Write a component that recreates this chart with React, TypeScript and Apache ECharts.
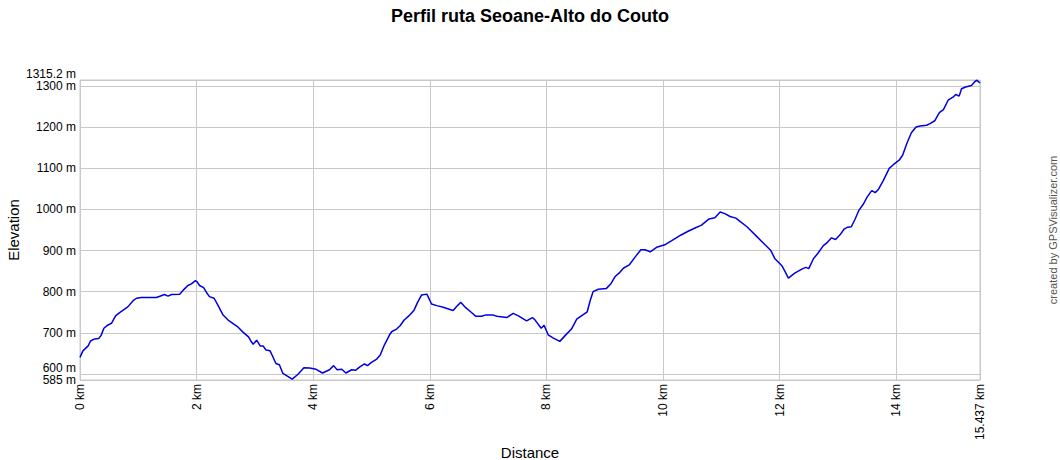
import React, { useEffect, useRef } from "react";
import * as echarts from "echarts";

const distanceKm = [
  0.0, 0.05, 0.14, 0.18, 0.25, 0.32, 0.36, 0.41, 0.48, 0.54, 0.61, 0.68, 0.74, 0.82, 0.91, 0.97,
  1.05, 1.31, 1.37, 1.45, 1.51, 1.57, 1.71, 1.78, 1.85, 1.91, 1.98, 2.01, 2.05, 2.12, 2.17, 2.22,
  2.3, 2.37, 2.45, 2.54, 2.62, 2.7, 2.8, 2.89, 2.93, 2.97, 3.03, 3.09, 3.14, 3.19, 3.26, 3.3,
  3.36, 3.42, 3.48, 3.55, 3.64, 3.74, 3.84, 3.94, 4.05, 4.16, 4.28, 4.35, 4.41, 4.49, 4.56, 4.66,
  4.73, 4.8, 4.88, 4.93, 5.0, 5.09, 5.15, 5.22, 5.31, 5.35, 5.43, 5.49, 5.56, 5.64, 5.73, 5.79,
  5.86, 5.95, 6.03, 6.12, 6.23, 6.32, 6.4, 6.46, 6.53, 6.6, 6.71, 6.79, 6.89, 6.95, 7.09, 7.15,
  7.32, 7.43, 7.52, 7.66, 7.76, 7.8, 7.91, 7.96, 8.03, 8.12, 8.23, 8.32, 8.43, 8.52, 8.6, 8.7,
  8.75, 8.8, 8.89, 9.03, 9.11, 9.18, 9.26, 9.32, 9.42, 9.52, 9.62, 9.69, 9.78, 9.89, 10.03, 10.15,
  10.31, 10.43, 10.55, 10.66, 10.79, 10.89, 10.98, 11.06, 11.15, 11.25, 11.32, 11.44, 11.61, 11.75, 11.85, 11.92,
  12.04, 12.09, 12.15, 12.26, 12.38, 12.45, 12.5, 12.58, 12.66, 12.75, 12.82, 12.89, 12.96, 13.04, 13.11, 13.17,
  13.23, 13.29, 13.36, 13.44, 13.5, 13.58, 13.64, 13.69, 13.78, 13.88, 13.95, 14.05, 14.11, 14.18, 14.26, 14.34,
  14.41, 14.52, 14.58, 14.66, 14.74, 14.81, 14.89, 14.98, 15.02, 15.08, 15.12, 15.19, 15.29, 15.34, 15.38, 15.437,
];

const elevationM = [
  640, 656, 668, 680, 685, 686, 693, 711, 719, 723, 741, 749, 755, 763, 778, 784,
  786, 786, 789, 793, 789, 793, 794, 805, 815, 819, 827, 824, 815, 810, 798, 788,
  784, 766, 744, 731, 723, 715, 701, 690, 680, 672, 682, 668, 668, 658, 656, 644,
  625, 622, 601, 595, 587, 599, 615, 614, 611, 602, 610, 620, 610, 611, 602, 610,
  609, 617, 624, 620, 628, 636, 646, 670, 695, 703, 709, 717, 731, 741, 755, 774,
  792, 794, 770, 766, 762, 758, 754, 764, 774, 763, 750, 740, 740, 743, 743, 740,
  737, 747, 741, 729, 737, 732, 711, 718, 695, 687, 679, 693, 709, 733, 741, 751,
  778, 800, 806, 808, 820, 837, 847, 857, 865, 884, 902, 902, 897, 908, 914, 924,
  938, 947, 955, 962, 977, 980, 994, 990, 983, 979, 971, 958, 934, 914, 900, 880,
  863, 850, 833, 845, 855, 859, 856, 880, 894, 912, 920, 931, 927, 939, 953, 957,
  958, 975, 998, 1014, 1030, 1046, 1041, 1048, 1071, 1100, 1109, 1120, 1132, 1160, 1187, 1201,
  1203, 1205, 1209, 1216, 1236, 1243, 1266, 1274, 1280, 1276, 1294, 1298, 1302, 1310, 1315, 1308,
];

const titleText = "Perfil ruta Seoane-Alto do Couto";
const xAxisName = "Distance";
const yAxisName = "Elevation";
const creditText = "created by GPSVisualizer.com";
const xMin = 0;
const xMax = 15.437;
const xInterval = 2;
const yMin = 585;
const yMax = 1315.2;
const yNearEdgeTicks = [600, 1300];

const FONT = "'Liberation Sans', Arial, sans-serif";

export default function App() {
  const ref = useRef<HTMLDivElement>(null);

  useEffect(() => {
    if (!ref.current) return;
    const chart = echarts.init(ref.current, null, { renderer: "svg" });
    const data = distanceKm.map((d, i) => [d, elevationM[i]]);
    const baseY = {
      type: "value",
      min: yMin,
      max: yMax,
      splitNumber: 7,
      position: "left",
      axisLine: { show: false },
      axisTick: { show: false },
    };
    chart.setOption({
      animation: false,
      backgroundColor: "#ffffff",
      title: {
        text: titleText,
        left: "center",
        top: 2,
        textStyle: { fontFamily: FONT, fontSize: 18, fontWeight: "bold", color: "#000" },
      },
      grid: {
        left: 80,
        right: 80,
        top: 80,
        bottom: 80,
        containLabel: false,
        outerBoundsMode: "none",
        show: true,
        borderColor: "#c8c8c8",
        borderWidth: 1,
      },
      xAxis: {
        type: "value",
        min: xMin,
        max: xMax,
        interval: xInterval,
        axisLine: { show: false },
        axisTick: { show: false },
        splitLine: { show: true, lineStyle: { color: "#c8c8c8", width: 1 } },
        axisLabel: {
          rotate: 90,
          margin: 4,
          showMinLabel: true,
          showMaxLabel: true,
          hideOverlap: false,
          fontFamily: FONT,
          fontSize: 12,
          color: "#000",
          formatter: (v: number) => `${v} km`,
        },
      },
      yAxis: [
        {
          ...baseY,
          splitLine: { show: true, lineStyle: { color: "#c8c8c8", width: 1 } },
          axisLabel: {
            margin: 4,
            showMinLabel: true,
            showMaxLabel: true,
            hideOverlap: false,
            fontFamily: FONT,
            fontSize: 12,
            color: "#000",
            formatter: (v: number) => {
              if (yNearEdgeTicks.includes(v)) return "";
              if (v === yMax) return `{up|${v} m}`;
              return `${v} m`;
            },
            rich: {
              up: { fontFamily: FONT, fontSize: 12, color: "#000", padding: [0, 0, 12, 0] },
            },
          },
        },
        {
          ...baseY,
          splitLine: { show: false },
          axisLabel: {
            margin: 4,
            showMinLabel: false,
            showMaxLabel: false,
            hideOverlap: false,
            fontFamily: FONT,
            fontSize: 12,
            color: "#000",
            formatter: (v: number) => {
              if (v === 600) return `{up2|${v} m}`;
              if (v === 1300) return `${v} m`;
              return "";
            },
            rich: {
              up2: { fontFamily: FONT, fontSize: 12, color: "#000", padding: [0, 0, 12, 0] },
            },
          },
        },
      ],
      graphic: [
        {
          type: "text",
          x: 13,
          y: 230,
          rotation: Math.PI / 2,
          style: {
            text: yAxisName,
            fill: "#000",
            font: `15px ${FONT}`,
            textAlign: "center",
            textVerticalAlign: "middle",
          },
        },
        {
          type: "text",
          x: 530,
          y: 452,
          style: {
            text: xAxisName,
            fill: "#000",
            font: `15px ${FONT}`,
            textAlign: "center",
            textVerticalAlign: "middle",
          },
        },
        {
          type: "text",
          x: 1053,
          y: 230,
          rotation: Math.PI / 2,
          style: {
            text: creditText,
            fill: "#555",
            font: `11px ${FONT}`,
            textAlign: "center",
            textVerticalAlign: "middle",
          },
        },
      ],
      series: [
        {
          type: "line",
          data,
          yAxisIndex: 0,
          showSymbol: false,
          symbol: "none",
          lineStyle: { color: "#0000e0", width: 1.5 },
        },
      ],
    });
    return () => chart.dispose();
  }, []);

  return (
    <div
      ref={ref}
      style={{ position: "absolute", left: 0, top: 0, width: 1060, height: 460 }}
    />
  );
}
